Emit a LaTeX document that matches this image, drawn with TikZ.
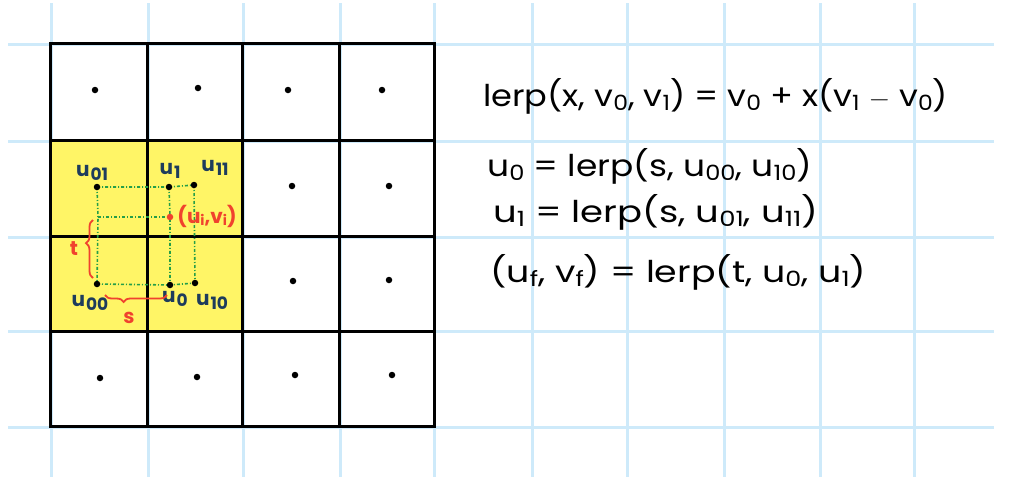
\documentclass[tikz,border=0pt]{standalone}
\usepackage{fontspec}
\setmainfont{Poppins}
\usetikzlibrary{decorations.pathreplacing}
\definecolor{gridblue}{RGB}{206,234,250}
\definecolor{hl}{RGB}{255,245,102}
\definecolor{navy}{RGB}{30,60,92}
\definecolor{redink}{RGB}{240,66,46}
\definecolor{greenink}{RGB}{36,158,72}
\newcommand\sbs[1]{\raisebox{-0.25ex}{\scalebox{0.7}{#1}}}
\newcommand\lsb[1]{\kern1pt\raisebox{-0.3ex}{\scalebox{0.85}{#1}}}
\newcommand\eqline[2]{\resizebox{#1}{\height}{#2}}
\begin{document}
\begin{tikzpicture}[x=1pt,y=-1pt,
  bgline/.style={gridblue,line width=3pt},
  cellline/.style={black,line width=3pt},
  dot/.style={circle,fill=black,inner sep=0pt,minimum size=6.5pt},
  gline/.style={greenink,line width=1.6pt,dash pattern=on 3pt off 2pt on 1pt off 2pt},
  lbl/.style={text=navy,font=\fontsize{20}{20}\selectfont\bfseries,inner sep=0pt},
  rlbl/.style={text=redink,font=\fontsize{20}{20}\selectfont\bfseries,inner sep=0pt},
  eq/.style={anchor=west,inner sep=0pt,font=\fontsize{30}{30}\selectfont},
  bracestyle/.style={redink,line width=1.8pt,decorate,decoration={brace,amplitude=7pt}}]
\useasboundingbox (0,0) rectangle (1012,498);
\fill[white] (0,0) rectangle (1012,498);
% background paper grid
\foreach \x in {51,148,243,340,434,532,627,724,820,914}
  \draw[bgline] (\x,3) -- (\x,477);
\foreach \y in {44,141,237,331,427}
  \draw[bgline] (8,\y) -- (994,\y);
% highlight
\fill[hl] (50,140) rectangle (242,333);
% black cell grid
\foreach \x in {147,242,339}
  \draw[cellline] (\x,43) -- (\x,426);
\foreach \y in {140,236,331}
  \draw[cellline] (50,\y) -- (434,\y);
\draw[cellline] (50,43) rectangle (434,426);
% cell centre dots
\node[dot] (c00) at (95,90) {};
\node[dot] (c01) at (198,88) {};
\node[dot] (c02) at (288,90) {};
\node[dot] (c03) at (382,90) {};
\node[dot] (c12) at (292,186) {};
\node[dot] (c13) at (389,186) {};
\node[dot] (c22) at (293,281) {};
\node[dot] (c23) at (389,280) {};
\node[dot] (c30) at (100,378) {};
\node[dot] (c31) at (197,377) {};
\node[dot] (c32) at (295,375) {};
\node[dot] (c33) at (392,375) {};
% sample points
\coordinate (p01) at (97,187);
\coordinate (p1) at (169,187);
\coordinate (p11) at (194,185);
\coordinate (p00) at (97,284);
\coordinate (p0) at (170,285);
\coordinate (p10) at (195,283);
\coordinate (pi) at (170,217);
\coordinate (pl) at (98,217);
\draw[gline] (p01) -- (p1) -- (p11);
\draw[gline] (p00) -- (p0) -- (p10);
\draw[gline] (p01) -- (pl) -- (p00);
\draw[gline] (p11) -- (p10);
\draw[gline] (p1) -- (pi) -- (p0);
\draw[gline] (pl) -- (pi);
\node[dot] (u01) at (p01) {};
\node[dot] (u1) at (p1) {};
\node[dot] (u11) at (p11) {};
\node[dot] (u00) at (p00) {};
\node[dot] (u0) at (p0) {};
\node[dot] (u10) at (p10) {};
\node[circle,fill=redink,inner sep=0pt,minimum size=6.5pt] (ui) at (pi) {};
% labels
\node[lbl] (l01) at (92,173) {u\lsb{01}};
\node[lbl] (l1) at (170,171) {u\lsb{1}};
\node[lbl] (l11) at (215,168) {u\lsb{11}};
\node[lbl] (l00) at (90,303) {u\lsb{00}};
\node[lbl] (l0) at (175,299) {u\lsb{0}};
\node[lbl] (l10) at (212,302) {u\lsb{10}};
\node[rlbl] (lui) at (207,216) {(u\sbs{i},v\sbs{i})};
% braces
\coordinate (tb1) at (93,278);
\coordinate (tb2) at (93,220);
\draw[bracestyle,decoration={aspect=0.6}] (tb1) -- (tb2);
\node[rlbl] (tl) at (74,249) {t};
\coordinate (sb1) at (167,295);
\coordinate (sb2) at (105,295);
\draw[bracestyle,decoration={aspect=0.7}] (sb1) -- (sb2);
\node[rlbl] (sl) at (129,318) {s};
% equations
\node[eq] (e1) at (483,96) {\eqline{465pt}{lerp(x, v\sbs{0}, v\sbs{1}) = v\sbs{0} + x(v\sbs{1} $-$ v\sbs{0})}};
\node[eq] (e2) at (487,166) {\eqline{325pt}{u\sbs{0} = lerp(s, u\sbs{00}, u\sbs{10})}};
\node[eq] (e3) at (493,212) {\eqline{325pt}{u\sbs{1} = lerp(s, u\sbs{01}, u\sbs{11})}};
\node[eq] (e4) at (490,272) {\eqline{376pt}{(u\sbs{f}, v\sbs{f}) = lerp(t, u\sbs{0}, u\sbs{1})}};
\end{tikzpicture}
\end{document}
